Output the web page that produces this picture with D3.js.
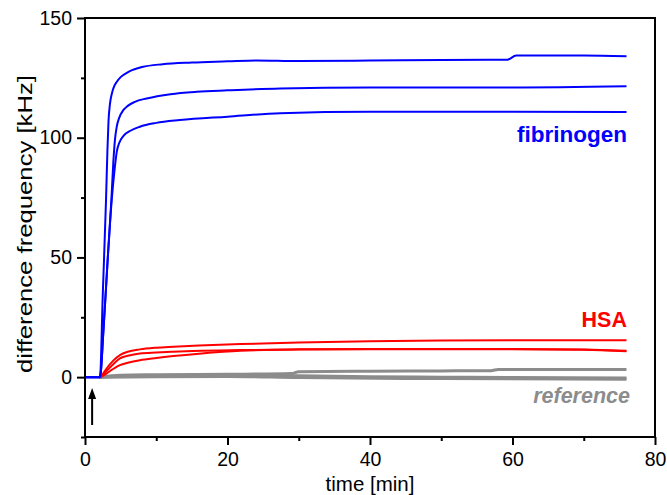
<!DOCTYPE html>
<html>
<head>
<meta charset="utf-8">
<script src="https://cdn.jsdelivr.net/npm/d3@7"></script>
<style>
  body { margin: 0; background: #fff; }
  text { font-family: Arial, "Liberation Sans", sans-serif; }
</style>
</head>
<body>
<script>
// données : [temps (min), fréquence (kHz)]
const fibrinogen1 = [[0,0],[2.1,0],[2.5,35],[2.95,74],[3.15,95],[3.3,107],[3.5,114],[3.8,118.8],[4.1,121.5],[4.45,123.3],[5,125.3],[5.7,126.8],[6.3,127.8],[8,129.5],[10.9,130.7],[15,131.4],[20,131.9],[24,132.3],[30,132],[40,132.2],[50,132.5],[59.3,132.6],[60.5,134.3],[70,134.3],[76,134]]
const fibrinogen2 = [[0,0],[2.1,0],[2.6,20],[3.2,50],[3.7,74],[3.98,90],[4.2,99],[4.45,104.5],[4.8,108.3],[5.4,111.6],[6,113.3],[7,115],[8.66,116.4],[12,118.2],[15.7,119.2],[20,119.8],[27.4,120.6],[40,121],[60,121],[76,121.5]]
const fibrinogen3 = [[0,0],[2.1,0],[2.6,20],[3.2,50],[3.75,74],[4.2,88],[4.45,94],[4.8,97.8],[5.4,100.8],[6.3,102.8],[7.7,104.6],[10,106.2],[13.3,107.4],[20,108.8],[27.4,110.2],[40,110.8],[60,110.8],[76,110.7]]

const hsa1 = [[2.2,0],[3,3.5],[4,7],[4.9,9.2],[6,10.6],[7.7,11.6],[10,12.3],[12.4,12.7],[16,13.2],[21.8,13.8],[30,14.5],[40,15],[50,15.3],[60,15.4],[76,15.4]]
const hsa2 = [[2.2,0],[3,2.5],[4,5.5],[4.9,7.8],[6,8.9],[7.7,9.9],[10,10.3],[12.4,10.6],[21.8,11.3],[30,11.6],[40,11.8],[60,11.8],[70,11.5],[76,11]]
const hsa3 = [[2.2,0],[3,1.5],[4,3.5],[4.9,5],[6,6],[7.7,7.1],[10,8],[12.4,8.8],[16,9.8],[21.8,11],[30,11.5],[40,11.6],[60,11.6],[70,11.4],[76,10.8]]

const reference1 = [[2,0],[5,0.8],[10,1],[20,1.2],[29,1.5],[30,2.3],[40,2.5],[50,2.6],[57,2.7],[58,3.2],[76,3.2]]
const reference2 = [[2,0],[10,0.7],[20,0.8],[30,0.6],[40,0.2],[50,0],[60,-0.2],[76,-0.4]]
const reference3 = [[2,0],[10,0.2],[20,0.3],[30,-0.2],[50,-0.6],[76,-0.9]]

const xTicks = [0, 20, 40, 60, 80]
const xMinor = [10, 30, 50, 70]
const yTicks = [0, 50, 100, 150]
const yMinor = [-25, 25, 75, 125]
const arrowT = 1
const arrowFrom = -20
const arrowTo = -4.5

const width = 667, height = 495
const margin = {top: 18, right: 12, bottom: 58, left: 85}

const svg = d3.select("body").append("svg")
    .attr("width", width)
    .attr("height", height)

const x = d3.scaleLinear().domain([0, 80]).range([margin.left, width - margin.right])
const y = d3.scaleLinear().domain([-25, 150]).range([height - margin.bottom, margin.top])

const line = d3.line()
    .x(d => x(d[0]))
    .y(d => y(d[1]))
    .curve(d3.curveMonotoneX)

// courbes : référence, HSA puis fibrinogène par-dessus
const groups = [
    {data: [reference1, reference2, reference3], color: "#8c8c8c", w: 3},
    {data: [hsa1, hsa2, hsa3], color: "#ff0000", w: 2},
    {data: [fibrinogen1, fibrinogen2, fibrinogen3], color: "#0000ff", w: 2}
]
groups.forEach(g => {
    svg.append("g").selectAll("path")
        .data(g.data)
        .enter()
        .append("path")
        .attr("d", line)
        .attr("fill", "none")
        .attr("stroke", g.color)
        .attr("stroke-width", g.w)
        .attr("stroke-linejoin", "round")
})

// axes
const xAxis = svg.append("g")
    .attr("transform", `translate(0,${y(-25)})`)
    .call(d3.axisBottom(x).tickValues(xTicks).tickSize(8).tickPadding(7))
xAxis.select(".domain").remove()
xAxis.selectAll("text").style("font-size", "19.5px").attr("fill", "#000")
xAxis.selectAll("line").attr("stroke-width", 2)
svg.append("g")
    .attr("transform", `translate(0,${y(-25)})`)
    .call(d3.axisBottom(x).tickValues(xMinor).tickSize(4).tickFormat(""))
    .call(g => g.select(".domain").remove())
    .selectAll("line").attr("stroke-width", 2)

const yAxis = svg.append("g")
    .attr("transform", `translate(${x(0)},0)`)
    .call(d3.axisLeft(y).tickValues(yTicks).tickSize(8).tickPadding(5))
yAxis.select(".domain").remove()
yAxis.selectAll("text").style("font-size", "19.5px").attr("fill", "#000")
yAxis.selectAll("line").attr("stroke-width", 2)
svg.append("g")
    .attr("transform", `translate(${x(0)},0)`)
    .call(d3.axisLeft(y).tickValues(yMinor).tickSize(4).tickFormat(""))
    .call(g => g.select(".domain").remove())
    .selectAll("line").attr("stroke-width", 2)

// cadre
svg.append("rect")
    .attr("x", x(0))
    .attr("y", y(150))
    .attr("width", x(80) - x(0))
    .attr("height", y(-25) - y(150))
    .attr("fill", "none")
    .attr("stroke", "#000")
    .attr("stroke-width", 2)

// flèche d'injection
svg.append("line")
    .attr("x1", x(arrowT)).attr("x2", x(arrowT))
    .attr("y1", y(arrowFrom)).attr("y2", y(arrowTo) + 8)
    .attr("stroke", "#000")
    .attr("stroke-width", 2)
svg.append("path")
    .attr("d", `M${x(arrowT)},${y(arrowTo)} l-4,11 l8,0 z`)
    .attr("fill", "#000")

// titres des axes
svg.append("text")
    .attr("x", (x(0) + x(80)) / 2)
    .attr("y", 491)
    .attr("text-anchor", "middle")
    .style("font-size", "20.5px")
    .text("time [min]")

// le titre vertical est étiré dans l'original
svg.append("text")
    .attr("transform", `translate(32,224) rotate(-90)`)
    .attr("text-anchor", "middle")
    .attr("textLength", 298)
    .attr("lengthAdjust", "spacingAndGlyphs")
    .style("font-size", "20.5px")
    .text("difference frequency [kHz]")

// étiquettes des séries
svg.append("text")
    .attr("x", 627).attr("y", 142)
    .attr("text-anchor", "end")
    .attr("fill", "#0000ff")
    .style("font-size", "22.5px").style("font-weight", "bold")
    .text("fibrinogen")

svg.append("text")
    .attr("x", 627).attr("y", 327)
    .attr("text-anchor", "end")
    .attr("fill", "#ff0000")
    .style("font-size", "21.5px").style("font-weight", "bold")
    .text("HSA")

svg.append("text")
    .attr("x", 630).attr("y", 403)
    .attr("text-anchor", "end")
    .attr("fill", "#8c8c8c")
    .style("font-size", "21.5px").style("font-weight", "bold").style("font-style", "italic")
    .text("reference")
</script>
</body>
</html>
